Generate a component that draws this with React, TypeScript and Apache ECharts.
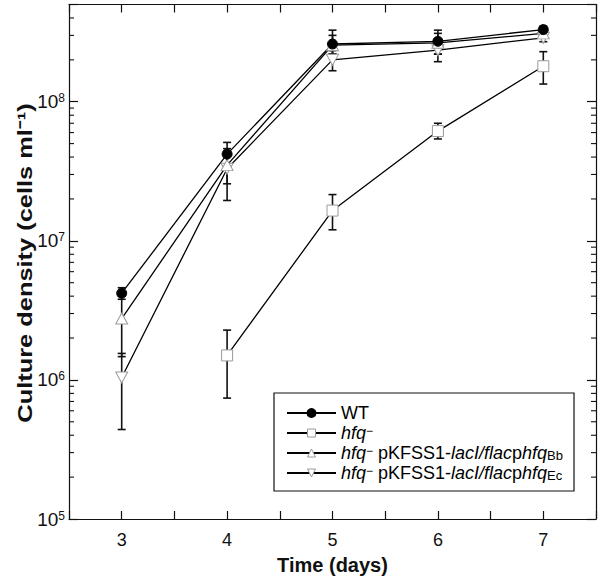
import React, { useEffect, useRef } from "react";
import * as echarts from "echarts";

const days = [3, 4, 5, 6, 7];
const yTickExponents = [5, 6, 7, 8];

const wt = [4.2e6, 4.2e7, 2.6e8, 2.72e8, 3.3e8];
const wtLow = [3.8e6, 3.3e7, 2.2e8, 2.2e8, 3.1e8];
const wtHigh = [4.6e6, 5.1e7, 3.0e8, 3.27e8, 3.5e8];

const hfq = [null, 1.5e6, 1.65e7, 6.15e7, 1.8e8];
const hfqLow = [null, 7.4e5, 1.2e7, 5.4e7, 1.34e8];
const hfqHigh = [null, 2.28e6, 2.15e7, 7.0e7, 2.29e8];

const bb = [2.76e6, 3.5e7, 2.55e8, 2.65e8, 3.1e8];
const bbLow = [1.47e6, 2.57e7, 2.2e8, 2.2e8, 2.9e8];
const bbHigh = [4.0e6, 4.4e7, 3.27e8, 3.1e8, 3.3e8];

const ec = [1.04e6, 3.3e7, 2.0e8, 2.35e8, 2.88e8];
const ecLow = [4.4e5, 1.95e7, 1.67e8, 1.94e8, 2.7e8];
const ecHigh = [1.55e6, 4.6e7, 2.33e8, 2.75e8, 3.05e8];

const X_MIN = 2.5;
const X_MAX = 7.5;
const Y_MIN = 1e5;
const Y_MAX = 5e8;

const minorTickValues: number[] = [];
for (let e = 5; e <= 8; e++) {
  for (let m = 2; m <= 9; m++) {
    const v = m * Math.pow(10, e);
    if (v < Y_MAX) minorTickValues.push(v);
  }
}

const FONT = "'Liberation Sans', Arial, Helvetica, sans-serif";
const HOLLOW = { color: "#fff", borderColor: "#9a9a9a", borderWidth: 1 };

function pts(vals: (number | null)[]) {
  const out: number[][] = [];
  vals.forEach((v, i) => {
    if (v != null) out.push([days[i], v]);
  });
  return out;
}
function errs(lo: (number | null)[], hi: (number | null)[]) {
  const out: number[][] = [];
  lo.forEach((v, i) => {
    const h = hi[i];
    if (v != null && h != null) out.push([days[i], v, h]);
  });
  return out;
}

function errorSeries(data: number[][]) {
  return {
    type: "custom",
    silent: true,
    z: 1,
    data,
    encode: { x: 0, y: [1, 2] },
    renderItem: (params: any, api: any) => {
      const x = api.value(0);
      const top = api.coord([x, api.value(2)]);
      const bot = api.coord([x, api.value(1)]);
      const hw = 4;
      const style = { stroke: "#111", lineWidth: 1.6 };
      return {
        type: "group",
        children: [
          { type: "line", shape: { x1: top[0], y1: top[1], x2: bot[0], y2: bot[1] }, style },
          { type: "line", shape: { x1: top[0] - hw, y1: top[1], x2: top[0] + hw, y2: top[1] }, style },
          { type: "line", shape: { x1: bot[0] - hw, y1: bot[1], x2: bot[0] + hw, y2: bot[1] }, style },
        ],
      };
    },
  };
}

const DOWN_TRI = "path://M0,0 L10,0 L5,9 Z";

export default function App() {
  const ref = useRef<HTMLDivElement>(null);
  useEffect(() => {
    document.body.style.margin = "0";
    if (!ref.current) return;
    const chart = echarts.init(ref.current, undefined, { renderer: "svg" });

    const lineCommon = {
      type: "line",
      z: 3,
      lineStyle: { color: "#000", width: 1.3 },
      emphasis: { disabled: true },
    };

    const legendRich = {
      n: { fontSize: 18, fontFamily: FONT, color: "#000", lineHeight: 17, verticalAlign: "middle" },
      i: { fontSize: 18, fontFamily: FONT, color: "#000", fontStyle: "italic", lineHeight: 17, verticalAlign: "middle" },
      sup: { fontSize: 12, fontFamily: FONT, color: "#000", verticalAlign: "top", lineHeight: 10 },
      sub: { fontSize: 13, fontFamily: FONT, color: "#000", verticalAlign: "bottom", lineHeight: 10 },
    };

    const tickInterval = (i: number, v: any) => {
      const n = Number(v);
      return Number.isInteger(n) && n >= 3 && n <= 7;
    };

    const option: any = {
      animation: false,
      backgroundColor: "#fff",
      grid: { left: 69, right: 7, top: 4.5, bottom: 58 },
      graphic: [
        {
          type: "text",
          x: 25,
          y: 263,
          rotation: Math.PI / 2,
          scaleX: 1.27,
          style: {
            text: "Culture density (cells ml\u207B\u00B9)",
            fontFamily: FONT,
            fontWeight: "bold",
            fontSize: 20,
            fill: "#111",
            align: "center",
            verticalAlign: "middle",
          },
        },
      ],
      xAxis: [
        {
          type: "value",
          min: X_MIN,
          max: X_MAX,
          interval: 0.5,
          position: "bottom",
          name: "Time (days)",
          nameLocation: "middle",
          nameGap: 36,
          nameTextStyle: { fontFamily: FONT, fontWeight: "bold", fontSize: 20, color: "#111" },
          axisLine: { lineStyle: { color: "#111", width: 1.2 } },
          axisTick: { inside: true, length: 8, lineStyle: { color: "#111", width: 1.2 }, interval: tickInterval },
          axisLabel: {
            fontFamily: FONT,
            fontSize: 18,
            color: "#111",
            margin: 12,
            formatter: (v: number) => (Number.isInteger(v) && v >= 3 && v <= 7 ? String(v) : ""),
          },
          splitLine: { show: false },
        },
        {
          type: "value",
          min: X_MIN,
          max: X_MAX,
          interval: 0.5,
          position: "top",
          axisLine: { lineStyle: { color: "#111", width: 1.2 } },
          axisTick: { inside: true, length: 8, lineStyle: { color: "#111", width: 1.2 }, interval: tickInterval },
          axisLabel: { show: false },
          splitLine: { show: false },
        },
      ],
      yAxis: [
        {
          type: "log",
          logBase: 10,
          min: Y_MIN,
          max: Y_MAX,
          position: "left",
          axisLine: { lineStyle: { color: "#111", width: 1.2 } },
          axisTick: { inside: true, length: 9, lineStyle: { color: "#111", width: 1.2 } },
          axisLabel: {
            margin: 4,
            formatter: (v: number) => {
              const l = Math.log10(v);
              const e = Math.round(l);
              if (Math.abs(l - e) > 1e-6 || !yTickExponents.includes(e)) return "";
              return `{b|10}{s|${e}}`;
            },
            rich: {
              b: { fontFamily: FONT, fontSize: 19, color: "#111", lineHeight: 19, verticalAlign: "bottom" },
              s: { fontFamily: FONT, fontSize: 12, color: "#111", lineHeight: 10, verticalAlign: "top" },
            },
          },
          splitLine: { show: false },
        },
        {
          type: "log",
          logBase: 10,
          min: Y_MIN,
          max: Y_MAX,
          position: "right",
          axisLine: { lineStyle: { color: "#111", width: 1.2 } },
          axisTick: { inside: true, length: 9, lineStyle: { color: "#111", width: 1.2 } },
          axisLabel: { show: false },
          splitLine: { show: false },
        },
      ],
      legend: {
        orient: "vertical",
        left: 274,
        top: 393,
        padding: [11, 11, 9, 12],
        itemGap: 2,
        itemWidth: 49,
        itemHeight: 10,
        borderColor: "#111",
        borderWidth: 1.2,
        backgroundColor: "#fff",
        data: [
          { name: "WT", itemStyle: { color: "#000", borderColor: "#000" } },
          { name: "hfq-", itemStyle: HOLLOW },
          { name: "hfq- Bb", itemStyle: HOLLOW },
          { name: "hfq- Ec", itemStyle: HOLLOW },
        ],
        formatter: (name: string) => {
          if (name === "WT") return "{n|WT}";
          if (name === "hfq-") return "{i|hfq}{sup|\u2212}";
          if (name === "hfq- Bb") return "{i|hfq}{sup|\u2212}{n| pKFSS1-}{i|lacI/flac}{n|p}{i|hfq}{sub|Bb}";
          return "{i|hfq}{sup|\u2212}{n| pKFSS1-}{i|lacI/flac}{n|p}{i|hfq}{sub|Ec}";
        },
        textStyle: { rich: legendRich, fontSize: 18, fontFamily: FONT },
      },
      series: [
        {
          type: "custom",
          silent: true,
          z: 5,
          data: minorTickValues.map((v) => [v]),
          encode: { y: 0 },
          clip: false,
          renderItem: (params: any, api: any) => {
            const v = api.value(0);
            const l = api.coord([X_MIN, v]);
            const r = api.coord([X_MAX, v]);
            const style = { stroke: "#111", lineWidth: 1.1 };
            return {
              type: "group",
              children: [
                { type: "line", shape: { x1: l[0], y1: l[1], x2: l[0] + 5, y2: l[1] }, style },
                { type: "line", shape: { x1: r[0], y1: r[1], x2: r[0] - 5, y2: r[1] }, style },
              ],
            };
          },
        },
        errorSeries(errs(wtLow, wtHigh)),
        errorSeries(errs(hfqLow, hfqHigh)),
        errorSeries(errs(bbLow, bbHigh)),
        errorSeries(errs(ecLow, ecHigh)),
        {
          ...lineCommon,
          name: "hfq-",
          data: pts(hfq),
          symbol: "rect",
          symbolSize: 11,
          itemStyle: HOLLOW,
        },
        {
          ...lineCommon,
          name: "hfq- Ec",
          data: pts(ec),
          symbol: DOWN_TRI,
          symbolSize: [12, 11],
          itemStyle: HOLLOW,
        },
        {
          ...lineCommon,
          name: "hfq- Bb",
          data: pts(bb),
          symbol: "triangle",
          symbolSize: [12, 11],
          itemStyle: HOLLOW,
        },
        {
          ...lineCommon,
          name: "WT",
          data: pts(wt),
          symbol: "circle",
          symbolSize: 10,
          itemStyle: { color: "#000", borderColor: "#000", borderWidth: 1 },
        },
      ],
    };
    chart.setOption(option);
    return () => chart.dispose();
  }, []);
  return <div ref={ref} style={{ width: 603, height: 580 }} />;
}
